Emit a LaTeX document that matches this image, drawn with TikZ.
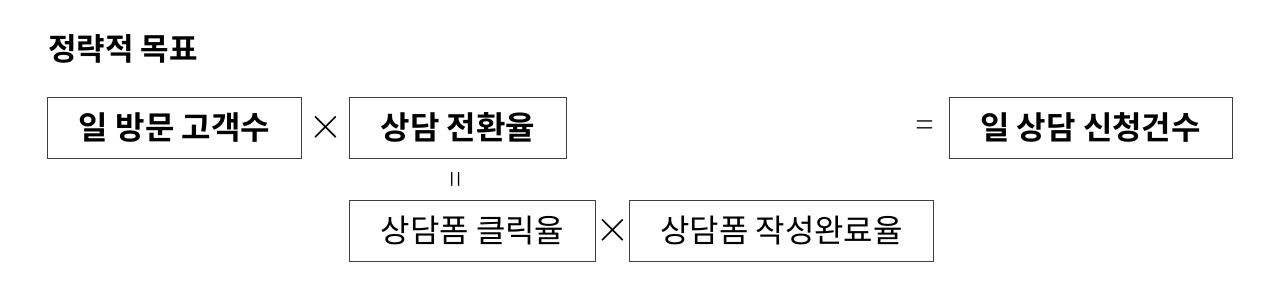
\documentclass[tikz,border=0pt]{standalone}
\usepackage{fontspec}
\setmainfont{Noto Sans CJK KR}[BoldFont={Noto Sans CJK KR Bold}]
\usetikzlibrary{positioning,calc}

\begin{document}
\begin{tikzpicture}[
x=1pt, y=-1pt,
node distance=40pt,
caixa/.style={
rectangle,
draw=black!75,
line width=1pt,
minimum height=61pt,
inner sep=0pt,
font=\fontsize{32}{38}\selectfont
},
forte/.style={caixa, font=\fontsize{32}{38}\selectfont\bfseries},
operador/.style={inner sep=0pt, font=\fontsize{24.88}{30}\selectfont, transform shape}
]
\useasboundingbox (0,0) rectangle (1280,293);
\node[anchor=west, inner sep=0pt, font=\fontsize{31}{36}\selectfont\bfseries] (titulo) at (48,49) {정략적 목표};
\node[forte, minimum width=254pt] (visitas) at (174.5,127.5) {일 방문 고객수};
\node[forte, minimum width=217pt, right=47pt of visitas] (conversao) {상담 전환율};
\node[forte, minimum width=283pt] (pedidos) at (1090.5,127.5) {일 상담 신청건수};
\node[caixa, minimum width=246pt, below=41pt of conversao.south west, anchor=north west] (clique) {상담폼 클릭율};
\node[caixa, minimum width=304pt, right=33pt of clique] (conclusao) {상담폼 작성완료율};

\node[operador, scale=1.8] (vezes1) at ($(visitas.east)!0.5!(conversao.west)$) {$\times$};
\node[operador, scale=1.8] (vezes2) at ($(clique.east)!0.5!(conclusao.west)$) {$\times$};
\node[operador, yscale=1.55] (igual1) at ($(pedidos.west)+(-24,0)$) {$=$};
\node[operador, rotate=90, yscale=1.55, xscale=0.9] (igual2) at ($(conversao.south)!0.5!(conversao.south |- clique.north)$) {$=$};
\end{tikzpicture}
\end{document}
